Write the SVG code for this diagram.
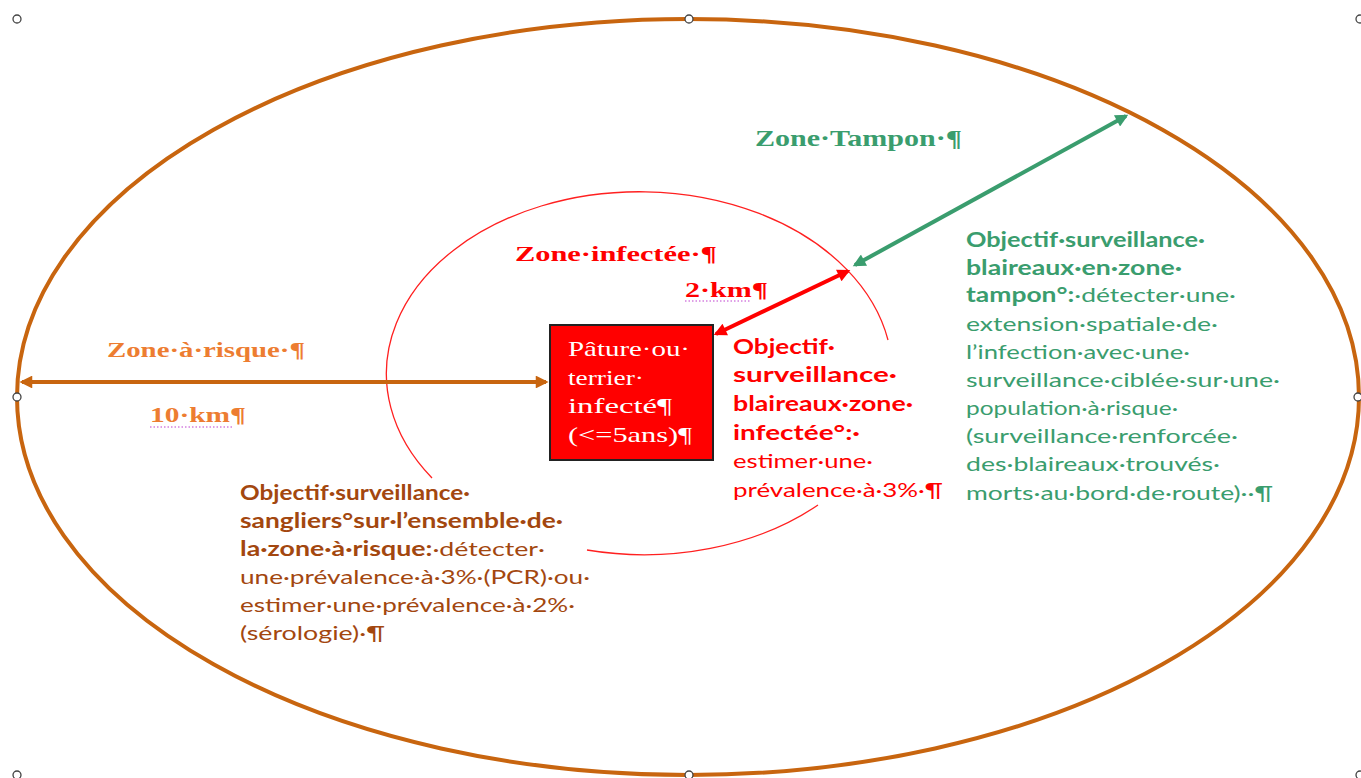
<svg xmlns="http://www.w3.org/2000/svg" width="1361" height="778" viewBox="0 0 1361 778">
<style>
.serifb{font-family:"Liberation Serif","Times New Roman",serif;font-weight:bold}
.serif{font-family:"Liberation Serif","Times New Roman",serif}
.sans{font-family:Lato,"Liberation Sans",Arial,sans-serif;font-size:20px}
.b{font-weight:bold}
.handle{fill:#fff;stroke:#444;stroke-width:1.3}
.dots{stroke:#C040D0;stroke-width:1.2;stroke-dasharray:1.5 2}
</style>
<defs>
<marker id="ahO" viewBox="0 0 10 10" refX="8" refY="5" markerWidth="4" markerHeight="3.2" orient="auto-start-reverse"><path d="M0,0 L10,5 L0,10 z" fill="#C8650F"/></marker>
<marker id="ahG" viewBox="0 0 10 10" refX="8" refY="5" markerWidth="4" markerHeight="3.2" orient="auto-start-reverse"><path d="M0,0 L10,5 L0,10 z" fill="#3A9D6E"/></marker>
<marker id="ahR" viewBox="0 0 10 10" refX="8" refY="5" markerWidth="4" markerHeight="3.2" orient="auto-start-reverse"><path d="M0,0 L10,5 L0,10 z" fill="#FF0000"/></marker>
</defs>
<rect width="1361" height="778" fill="#fff"/>

<g id="zone-risque-ellipse">
<ellipse cx="688" cy="397" rx="671" ry="378" fill="none" stroke="#C8650F" stroke-width="4"/>
</g>

<g id="zone-infectee-circle" fill="none" stroke="#FF2020" stroke-width="1.3">
<path d="M432,478 A253,182 0 1 1 888,340"/>
<path d="M818,505 A253,182 0 0 1 587,550"/>
</g>

<g id="connectors" stroke-width="4" fill="none">
<line x1="22" y1="382" x2="546" y2="382" stroke="#C8650F" marker-start="url(#ahO)" marker-end="url(#ahO)"/>
<line x1="855" y1="265" x2="1126" y2="116" stroke="#3A9D6E" marker-start="url(#ahG)" marker-end="url(#ahG)"/>
<line x1="716" y1="334" x2="848" y2="271" stroke="#FF0000" marker-start="url(#ahR)" marker-end="url(#ahR)"/>
</g>

<g id="handles">
<circle class="handle" cx="17" cy="19" r="4"/>
<circle class="handle" cx="689" cy="19" r="4"/>
<circle class="handle" cx="1360" cy="19" r="4"/>
<circle class="handle" cx="17" cy="397" r="4"/>
<circle class="handle" cx="1358" cy="397" r="4"/>
<circle class="handle" cx="17" cy="775" r="4"/>
<circle class="handle" cx="689" cy="775" r="4"/>
<circle class="handle" cx="1360" cy="775" r="4"/>
</g>

<g id="label-zone-tampon">
<text class="serifb" x="755" y="146" font-size="23" fill="#3A9D6E" textLength="207" lengthAdjust="spacingAndGlyphs">Zone·Tampon·¶</text>
</g>

<g id="label-zone-infectee" fill="#FF0000">
<text class="serifb" x="515" y="261" font-size="22" textLength="202" lengthAdjust="spacingAndGlyphs">Zone·infectée·¶</text>
<text class="serifb" x="685" y="297" font-size="22" textLength="83" lengthAdjust="spacingAndGlyphs">2·km¶</text>
<line class="dots" x1="685" y1="301" x2="750" y2="301"/>
</g>

<g id="label-zone-risque" fill="#ED7D31">
<text class="serifb" x="107" y="357" font-size="22" textLength="198" lengthAdjust="spacingAndGlyphs">Zone·à·risque·¶</text>
<text class="serifb" x="150" y="422" font-size="22" textLength="96" lengthAdjust="spacingAndGlyphs">10·km¶</text>
<line class="dots" x1="150" y1="427" x2="232" y2="427"/>
</g>

<g id="node-pature">
<rect x="550" y="325" width="163" height="135" fill="#FF0000" stroke="#222" stroke-width="2"/>
<g class="serif" font-size="21" fill="#fff">
<text x="568" y="356" textLength="122" lengthAdjust="spacingAndGlyphs">Pâture·ou·</text>
<text x="568" y="385" textLength="76" lengthAdjust="spacingAndGlyphs">terrier·</text>
<text x="568" y="413" textLength="104" lengthAdjust="spacingAndGlyphs">infecté¶</text>
<text x="568" y="442" textLength="124" lengthAdjust="spacingAndGlyphs">(&lt;=5ans)¶</text>
</g>
</g>

<g id="text-objectif-infectee" class="sans" fill="#FF0000">
<text class="b" x="733" y="354" textLength="102" lengthAdjust="spacingAndGlyphs">Objectif·</text>
<text class="b" x="733" y="382" textLength="164" lengthAdjust="spacingAndGlyphs">surveillance·</text>
<text class="b" x="733" y="411" textLength="180" lengthAdjust="spacingAndGlyphs">blaireaux·zone·</text>
<text class="b" x="733" y="440" textLength="127" lengthAdjust="spacingAndGlyphs">infectée°:·</text>
<text x="733" y="468" textLength="140" lengthAdjust="spacingAndGlyphs">estimer·une·</text>
<text x="733" y="497" textLength="210" lengthAdjust="spacingAndGlyphs">prévalence·à·3%·¶</text>
</g>

<g id="text-objectif-tampon" class="sans" fill="#3A9D6E">
<text class="b" x="966" y="247" textLength="239" lengthAdjust="spacingAndGlyphs">Objectif·surveillance·</text>
<text class="b" x="966" y="275" textLength="216" lengthAdjust="spacingAndGlyphs">blaireaux·en·zone·</text>
<text x="966" y="302" textLength="270" lengthAdjust="spacingAndGlyphs"><tspan class="b">tampon°:</tspan>·détecter·une·</text>
<text x="966" y="331" textLength="252" lengthAdjust="spacingAndGlyphs">extension·spatiale·de·</text>
<text x="966" y="359" textLength="224" lengthAdjust="spacingAndGlyphs">l’infection·avec·une·</text>
<text x="966" y="387" textLength="314" lengthAdjust="spacingAndGlyphs">surveillance·ciblée·sur·une·</text>
<text x="966" y="415" textLength="212" lengthAdjust="spacingAndGlyphs">population·à·risque·</text>
<text x="966" y="443" textLength="272" lengthAdjust="spacingAndGlyphs">(surveillance·renforcée·</text>
<text x="966" y="471" textLength="254" lengthAdjust="spacingAndGlyphs">des·blaireaux·trouvés·</text>
<text x="966" y="500" textLength="307" lengthAdjust="spacingAndGlyphs">morts·au·bord·de·route)··¶</text>
</g>

<g id="text-objectif-sangliers" class="sans" fill="#A3470F">
<text class="b" x="240" y="500" textLength="230" lengthAdjust="spacingAndGlyphs">Objectif·surveillance·</text>
<text class="b" x="240" y="528" textLength="323" lengthAdjust="spacingAndGlyphs">sangliers°sur·l’ensemble·de·</text>
<text x="240" y="556" textLength="305" lengthAdjust="spacingAndGlyphs"><tspan class="b">la·zone·à·risque:</tspan>·détecter·</text>
<text x="240" y="584" textLength="350" lengthAdjust="spacingAndGlyphs">une·prévalence·à·3%·(PCR)·ou·</text>
<text x="240" y="612" textLength="335" lengthAdjust="spacingAndGlyphs">estimer·une·prévalence·à·2%·</text>
<text x="240" y="640" textLength="145" lengthAdjust="spacingAndGlyphs">(sérologie)·¶</text>
</g>
</svg>
